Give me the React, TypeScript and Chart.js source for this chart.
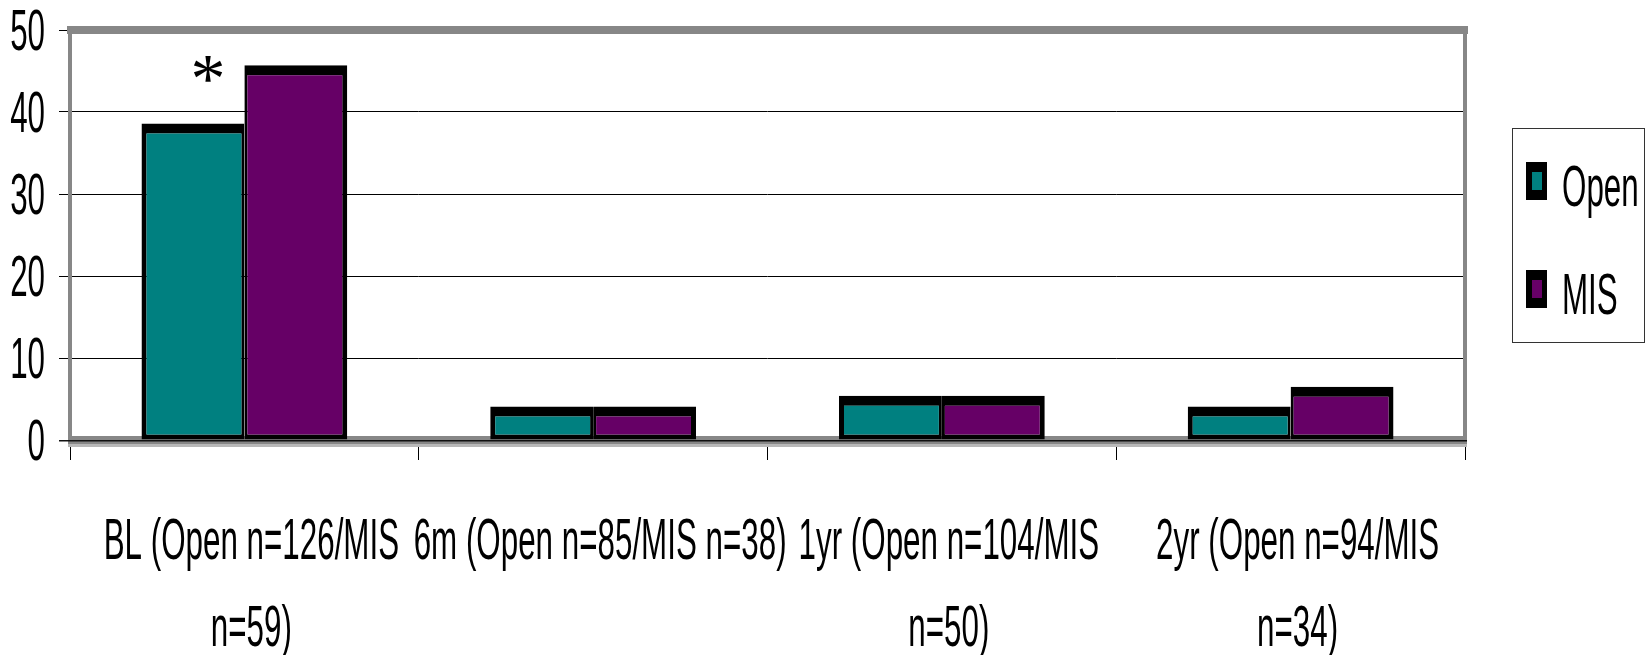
import { useEffect, useRef } from "react";
import { Chart, registerables } from "chart.js";

Chart.register(...registerables);

// Category labels, one entry per wrapped line
const categories: string[][] = [
  ["BL (Open n=126/MIS", "n=59)"],
  ["6m (Open n=85/MIS n=38)"],
  ["1yr (Open n=104/MIS", "n=50)"],
  ["2yr (Open n=94/MIS", "n=34)"],
];
const seriesNames = ["Open", "MIS"];
const openValues = [38.6, 4.1, 5.4, 4.1];
const misValues = [45.7, 4.1, 5.4, 6.5];
// groups flagged with a significance asterisk
const significant = [true, false, false, false];
const yTickValues = [0, 10, 20, 30, 40, 50];

const TEAL = "#008080";
const PLUM = "#660066";
const FRAME = "#878787";
const LABEL_FONT = "57px 'Liberation Sans', Arial, sans-serif";
const STAR_FONT = "70px 'Liberation Serif', 'Times New Roman', serif";
// horizontal squeeze giving a condensed face
const SQUEEZE = 0.55;

function squeezed(ctx: CanvasRenderingContext2D, text: string, x: number, y: number) {
  const w = ctx.measureText(text).width;
  ctx.fillText(text, x, y, w * SQUEEZE);
}

// grey plot-area frame plus the black category axis line
const framePlugin = {
  id: "plotFrame",
  beforeDatasetsDraw(chart: any) {
    const { ctx, chartArea } = chart;
    const { left, right, top, bottom } = chartArea;
    ctx.save();
    ctx.fillStyle = FRAME;
    ctx.fillRect(left - 3, top - 4, right - left + 6, 8);
    ctx.fillRect(left - 2, top, 4, bottom - top);
    ctx.fillRect(right - 2, top, 4, bottom - top);
    ctx.fillRect(left - 2, bottom - 4, right - left + 4, 8);
    ctx.fillStyle = "#b8b8b8";
    ctx.fillRect(left - 2, bottom + 4, right - left + 4, 3);
    ctx.fillStyle = "#111";
    ctx.fillRect(left - 11, bottom, right - left + 13, 1.5);
    ctx.restore();
  },
};

// axis labels, legend and significance marker in a condensed face
const textPlugin = {
  id: "condensedText",
  afterDraw(chart: any) {
    const { ctx, chartArea } = chart;
    const xScale = chart.scales.x;
    const yScale = chart.scales.y;
    ctx.save();
    ctx.fillStyle = "#000";
    ctx.font = LABEL_FONT;

    // value axis
    ctx.textAlign = "right";
    ctx.textBaseline = "alphabetic";
    yScale.ticks.forEach((t: any) => {
      const y = yScale.getPixelForValue(t.value);
      squeezed(ctx, String(t.value), chartArea.left - 25, y + 20);
    });

    // category axis
    ctx.textAlign = "center";
    categories.forEach((lines, i) => {
      const cx = xScale.getPixelForValue(i) + 7;
      lines.forEach((line, j) => {
        squeezed(ctx, line, cx, chartArea.bottom + 119 + j * 87);
      });
    });

    // legend
    const bx = chartArea.right + 47;
    const by = 128;
    ctx.strokeStyle = "#333";
    ctx.lineWidth = 1;
    ctx.strokeRect(bx + 0.5, by + 0.5, 132, 214);
    chart.data.datasets.forEach((ds: any, i: number) => {
      const my = by + 34 + i * 108;
      ctx.fillStyle = "#000";
      ctx.fillRect(bx + 14, my, 21, 38);
      ctx.fillStyle = ds.backgroundColor;
      ctx.fillRect(bx + 20, my + 10, 10, 18);
      ctx.fillStyle = "#000";
      ctx.textAlign = "left";
      squeezed(ctx, ds.label, bx + 50, my + 44);
    });

    // significance asterisks
    ctx.font = STAR_FONT;
    ctx.textAlign = "center";
    const meta = chart.getDatasetMeta(0);
    significant.forEach((flag, i) => {
      if (!flag) return;
      const bar = meta.data[i];
      const m = ctx.measureText("*");
      const cy = bar.y - 54;
      const base = cy + (m.actualBoundingBoxAscent - m.actualBoundingBoxDescent) / 2;
      ctx.fillText("*", bar.x + 15, base);
    });
    ctx.restore();
  },
};

export default function App() {
  const canvasRef = useRef<HTMLCanvasElement | null>(null);

  useEffect(() => {
    const canvas = canvasRef.current;
    if (!canvas) return;
    const chart = new Chart(canvas, {
      type: "bar",
      data: {
        labels: categories,
        datasets: [
          {
            label: seriesNames[0],
            data: openValues,
            backgroundColor: TEAL,
            borderColor: "#000",
            borderWidth: { top: 10, left: 5, right: 3, bottom: 5 },
            borderSkipped: false,
          },
          {
            label: seriesNames[1],
            data: misValues,
            backgroundColor: PLUM,
            borderColor: "#000",
            borderWidth: { top: 10, left: 3, right: 5, bottom: 5 },
            borderSkipped: false,
          },
        ],
      },
      options: {
        responsive: false,
        animation: false,
        events: [],
        layout: { padding: { left: 59, top: 30, right: 185, bottom: 195 } },
        datasets: {
          bar: { categoryPercentage: 0.59, barPercentage: 1 },
        },
        plugins: {
          legend: { display: false },
          tooltip: { enabled: false },
        },
        scales: {
          x: {
            grid: {
              offset: true,
              drawOnChartArea: false,
              drawTicks: true,
              tickLength: 20,
              color: "#000",
              lineWidth: 1,
            },
            border: { display: false },
            ticks: { display: false },
          },
          y: {
            min: 0,
            max: 50,
            afterBuildTicks: (scale: any) => {
              scale.ticks = yTickValues.map((v) => ({ value: v }));
            },
            grid: { color: "#000", lineWidth: 1, tickLength: 11, drawTicks: true },
            border: { display: false },
            ticks: { display: false },
          },
        },
      },
      plugins: [framePlugin, textPlugin],
    });
    return () => chart.destroy();
  }, []);

  return (
    <div style={{ position: "fixed", left: 0, top: 0, width: 1650, height: 655, background: "#fff" }}>
      <canvas ref={canvasRef} width={1650} height={655} style={{ display: "block" }} />
    </div>
  );
}
